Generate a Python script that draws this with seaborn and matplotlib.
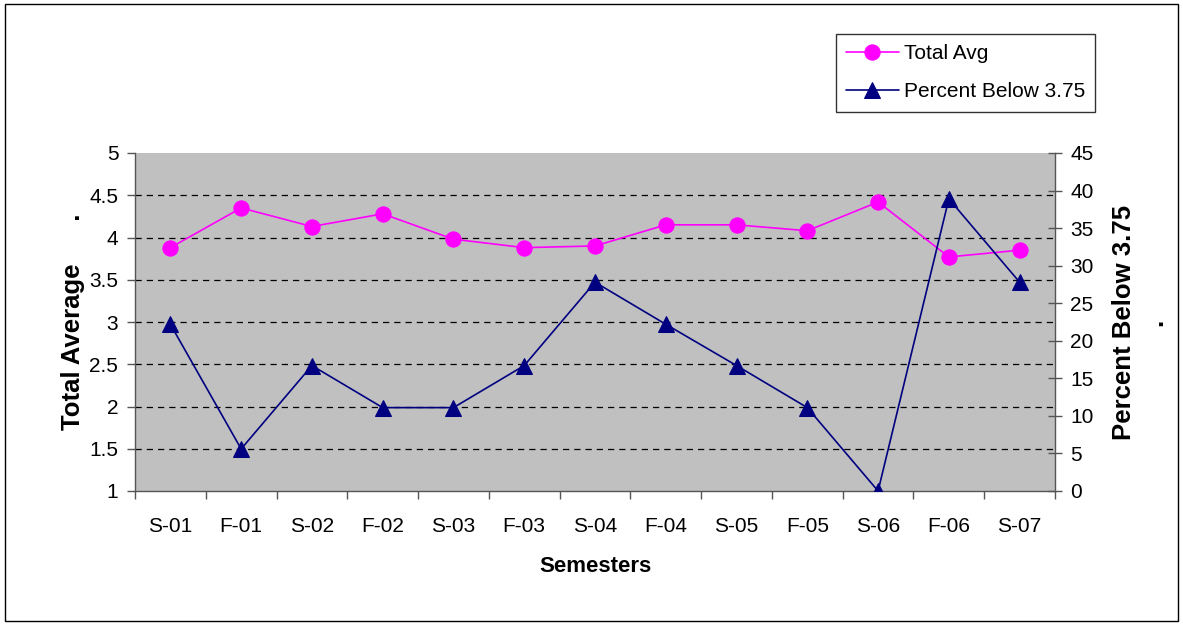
import matplotlib
matplotlib.use("Agg")
import matplotlib.pyplot as plt
import seaborn as sns
import pandas as pd
from matplotlib.patches import Rectangle

semesters = ["S-01", "F-01", "S-02", "F-02", "S-03", "F-03", "S-04",
             "F-04", "S-05", "F-05", "S-06", "F-06", "S-07"]
total_avg = [3.88, 4.35, 4.13, 4.28, 3.98, 3.88, 3.90, 4.15, 4.15, 4.08, 4.42, 3.77, 3.85]
pct_below = [22.2, 5.6, 16.7, 11.1, 11.1, 16.7, 27.8, 22.2, 16.7, 11.1, 0.0, 38.9, 27.8]
left_ticks = [1, 1.5, 2, 2.5, 3, 3.5, 4, 4.5, 5]
right_ticks = [0, 5, 10, 15, 20, 25, 30, 35, 40, 45]

sns.set_style("white")
plt.rcParams['font.family'] = ['Liberation Sans', 'DejaVu Sans']
plt.rcParams['text.color'] = 'black'
plt.rcParams['axes.labelcolor'] = 'black'
plt.rcParams['xtick.labelcolor'] = 'black'
plt.rcParams['ytick.labelcolor'] = 'black'

df = pd.DataFrame({"idx": range(len(semesters)), "avg": total_avg, "pct": pct_below})

fig = plt.figure(figsize=(11.83, 6.25), dpi=100)
ax = fig.add_axes([0.1141, 0.2144, 0.7777, 0.5408])
ax.set_facecolor("#C0C0C0")

sns.lineplot(data=df, x="idx", y="avg", ax=ax, color="#FF00FF", marker="o",
             markersize=11, markeredgecolor="#FF00FF", linewidth=1.2, label="Total Avg", legend=False)

ax2 = ax.twinx()
sns.lineplot(data=df, x="idx", y="pct", ax=ax2, color="#000080", marker="^",
             markersize=12, markeredgecolor="#000080", linewidth=1.2, label="Percent Below 3.75", legend=False)

ax.set_xlim(-0.5, len(semesters) - 0.5)
ax.set_ylim(1, 5)
ax2.set_ylim(0, 45)
ax.set_yticks(left_ticks)
ax.set_yticklabels([f"{t:g}" for t in left_ticks])
ax2.set_yticks(right_ticks)

# category labels centred, tick marks on the boundaries
ax.set_xticks([i - 0.5 for i in range(len(semesters) + 1)])
ax.set_xticklabels([])
ax.set_xticks(range(len(semesters)), minor=True)
ax.set_xticklabels(semesters, minor=True)
ax.tick_params(axis="x", which="major", direction="out", length=6, width=1, color="#555555", bottom=True)
ax.tick_params(axis="x", which="minor", length=0, pad=19, labelsize=15, labelcolor="black")
ax.tick_params(axis="y", direction="out", length=6, width=1, color="#555555", left=True,
               labelsize=15, pad=6, labelcolor="black")
ax2.tick_params(axis="y", direction="inout", length=10, width=1, color="#555555", right=True,
                labelsize=15, pad=6, labelcolor="black")

ax.yaxis.grid(True, color="black", linestyle=(0, (5, 4)), linewidth=0.9)
ax.get_ygridlines()[-1].set_visible(False)
ax.get_ygridlines()[0].set_visible(False)

for a in (ax, ax2):
    for s in a.spines.values():
        s.set_visible(False)
ax.spines["left"].set_visible(True)
ax.spines["bottom"].set_visible(True)
ax2.spines["right"].set_visible(True)
for s in (ax.spines["left"], ax.spines["bottom"], ax2.spines["right"]):
    s.set_color("#555555")
    s.set_linewidth(1)

ax.set_xlabel("Semesters", fontsize=16, fontweight="bold", labelpad=14)
ax.set_ylabel("Total Average      .", fontsize=18.5, fontweight="bold", labelpad=3)
ax2.set_ylabel("Percent Below 3.75\n.", fontsize=18.5, fontweight="bold", labelpad=13, linespacing=1.4)

h1, l1 = ax.get_legend_handles_labels()
h2, l2 = ax2.get_legend_handles_labels()
leg = fig.legend(h1 + h2, l1 + l2, loc="upper left", bbox_to_anchor=(0.7067, 0.9456),
                 frameon=True, fancybox=False, fontsize=15, handlelength=2.5,
                 borderpad=0.5, labelspacing=0.9, handletextpad=0.25, borderaxespad=0)
leg.get_frame().set_edgecolor("black")
leg.get_frame().set_linewidth(1)

fig.patches.append(Rectangle((0.004, 0.006), 0.992, 0.988, transform=fig.transFigure,
                             fill=False, edgecolor="black", linewidth=1))

fig.savefig("out.png", dpi=100, facecolor="white")
